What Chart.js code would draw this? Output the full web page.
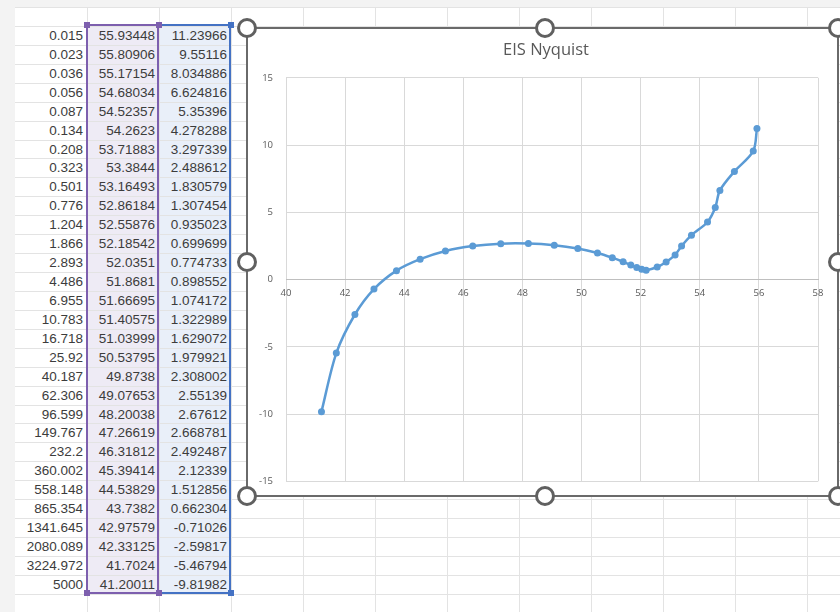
<!DOCTYPE html>
<html>
<head>
<meta charset="utf-8">
<script src="https://cdn.jsdelivr.net/npm/chart.js@4.4.1/dist/chart.umd.min.js"></script>
<style>
  html, body { margin: 0; padding: 0; }
  body {
    width: 840px; height: 612px; overflow: hidden; position: relative;
    background: #ffffff; font-family: "Liberation Sans", Arial, sans-serif;
  }
  .box { position: absolute; }
  .cell {
    position: absolute; text-align: right; font-size: 13.5px; color: #3c3c3c;
    line-height: 19px; white-space: nowrap;
  }
  .knob {
    position: absolute; width: 14px; height: 14px; border-radius: 50%;
    border: 3px solid #606060; background: #ffffff; box-sizing: content-box;
  }
  #chartBox {
    position: absolute; left: 246px; top: 27px; width: 593px; height: 470px;
    box-sizing: border-box; border: 2px solid #6a6a6a; background: #ffffff;
    overflow: hidden;
  }
  #chartBox canvas { position: absolute; left: 0; top: 0; }
</style>
</head>
<body>
<div id="sheet"></div>
<div id="chartBox"><canvas id="nyquist" width="589" height="471"></canvas></div>
<div id="knobs"></div>
<script>
// Measured impedance spectrum: frequency (Hz), Z' and -Z'' (ohm)
const frequency = [0.015, 0.023, 0.036, 0.056, 0.087, 0.134, 0.208, 0.323, 0.501, 0.776,
  1.204, 1.866, 2.893, 4.486, 6.955, 10.783, 16.718, 25.92, 40.187, 62.306,
  96.599, 149.767, 232.2, 360.002, 558.148, 865.354, 1341.645, 2080.089, 3224.972, 5000];
const zReal = [55.93448, 55.80906, 55.17154, 54.68034, 54.52357, 54.2623, 53.71883, 53.3844, 53.16493, 52.86184,
  52.55876, 52.18542, 52.0351, 51.8681, 51.66695, 51.40575, 51.03999, 50.53795, 49.8738, 49.07653,
  48.20038, 47.26619, 46.31812, 45.39414, 44.53829, 43.7382, 42.97579, 42.33125, 41.7024, 41.20011];
const zImag = [11.23966, 9.55116, 8.034886, 6.624816, 5.35396, 4.278288, 3.297339, 2.488612, 1.830579, 1.307454,
  0.935023, 0.699699, 0.774733, 0.898552, 1.074172, 1.322989, 1.629072, 1.979921, 2.308002, 2.55139,
  2.67612, 2.668781, 2.492487, 2.12339, 1.512856, 0.662304, -0.71026, -2.59817, -5.46794, -9.81982];
const chartTitle = 'EIS Nyquist';

// ---- worksheet backdrop ----
const sheet = document.getElementById('sheet');
function rect(l, t, w, h, color) {
  const d = document.createElement('div');
  d.className = 'box';
  d.style.cssText = `left:${l}px;top:${t}px;width:${w}px;height:${h}px;background:${color};`;
  sheet.appendChild(d);
  return d;
}
const ROW0 = 7, ROWH = 18.93;
const colLines = [87, 159, 231, 303, 375, 447, 519, 591, 663, 735, 807];

rect(0, 0, 840, ROW0, '#f3f3f3');
rect(0, 0, 15, 612, '#f3f3f3');
// selected range shading
rect(88, 27, 71, 566, '#eeebf5');
rect(160, 27, 71, 566, '#e9eff9');
for (let k = 0; k <= 33; k++) rect(15, Math.round(ROW0 + ROWH * k), 825, 1, '#e3e3e3');
for (const x of colLines) rect(x, ROW0, 1, 612 - ROW0, '#e3e3e3');

// cell values
function cell(left, width, top, text) {
  const d = document.createElement('div');
  d.className = 'cell';
  d.style.cssText = `left:${left}px;width:${width}px;top:${top}px;`;
  d.textContent = text;
  sheet.appendChild(d);
}
for (let i = 0; i < frequency.length; i++) {
  const top = Math.round(ROW0 + ROWH * (i + 1));
  cell(15, 68, top, String(frequency[i]));
  cell(88, 67, top, String(zReal[i]));
  cell(160, 67, top, String(zImag[i]));
}

// range selection outlines (purple = X values, blue = Y values)
const PURPLE = '#7d5fae', BLUE = '#4472c4';
rect(86, 25, 2, 569, PURPLE);
rect(157, 25, 2, 569, PURPLE);
rect(86, 24, 73, 2, PURPLE);
rect(86, 592, 73, 2, PURPLE);
rect(159, 24, 72, 2, BLUE);
rect(159, 592, 72, 2, BLUE);
rect(229, 24, 2, 570, BLUE);
for (const [x, y, c] of [[87, 25, PURPLE], [159, 25, PURPLE], [231, 25, BLUE],
                         [87, 593, PURPLE], [159, 593, PURPLE], [231, 593, BLUE]]) {
  rect(x - 3, y - 3, 6, 6, c);
}

// chart object resize knobs
const knobs = document.getElementById('knobs');
for (const [x, y] of [[247, 28], [545, 28], [838, 28], [247, 262], [838, 262],
                      [247, 496], [545, 496], [838, 496]]) {
  const k = document.createElement('div');
  k.className = 'knob';
  k.style.left = (x - 10) + 'px';
  k.style.top = (y - 10) + 'px';
  knobs.appendChild(k);
}

// ---- Nyquist plot ----
const points = zReal.map((x, i) => ({ x: x, y: zImag[i] }));
const tickFont = { family: '"Open Sans", sans-serif', size: 9.5 };

new Chart(document.getElementById('nyquist'), {
  type: 'scatter',
  data: {
    datasets: [{
      data: points,
      showLine: true,
      borderColor: '#5b9bd5',
      backgroundColor: '#5b9bd5',
      borderWidth: 2.5,
      pointRadius: 3.5,
      pointBorderWidth: 0,
      tension: 0.3
    }]
  },
  options: {
    responsive: false,
    animation: false,
    devicePixelRatio: 1,
    layout: { padding: { left: 7, right: 0, top: 0, bottom: 0 } },
    plugins: {
      legend: { display: false },
      tooltip: { enabled: false },
      title: {
        display: true,
        text: chartTitle,
        color: '#595959',
        font: { family: '"Open Sans", sans-serif', size: 16.5, weight: 'normal' },
        padding: { top: 11, bottom: 18 }
      }
    },
    scales: {
      x: {
        type: 'linear',
        position: { y: 0 },
        min: 40, max: 58,
        ticks: { stepSize: 2, color: '#595959', font: tickFont, padding: 8 },
        grid: { color: '#d9d9d9', drawTicks: false },
        border: { color: '#bfbfbf', width: 1 }
      },
      y: {
        type: 'linear',
        min: -15, max: 15,
        ticks: { stepSize: 5, color: '#595959', font: tickFont, padding: 13 },
        grid: { color: '#d9d9d9', drawTicks: false },
        border: { display: false },
        afterFit(scale) { scale.width = 31; }
      },
      // empty right-hand margin so the plot area ends short of the frame
      margin: {
        type: 'linear',
        position: 'right',
        grid: { display: false },
        ticks: { display: false },
        border: { display: false },
        afterFit(scale) { scale.width = 19; }
      }
    }
  }
});
</script>
</body>
</html>
